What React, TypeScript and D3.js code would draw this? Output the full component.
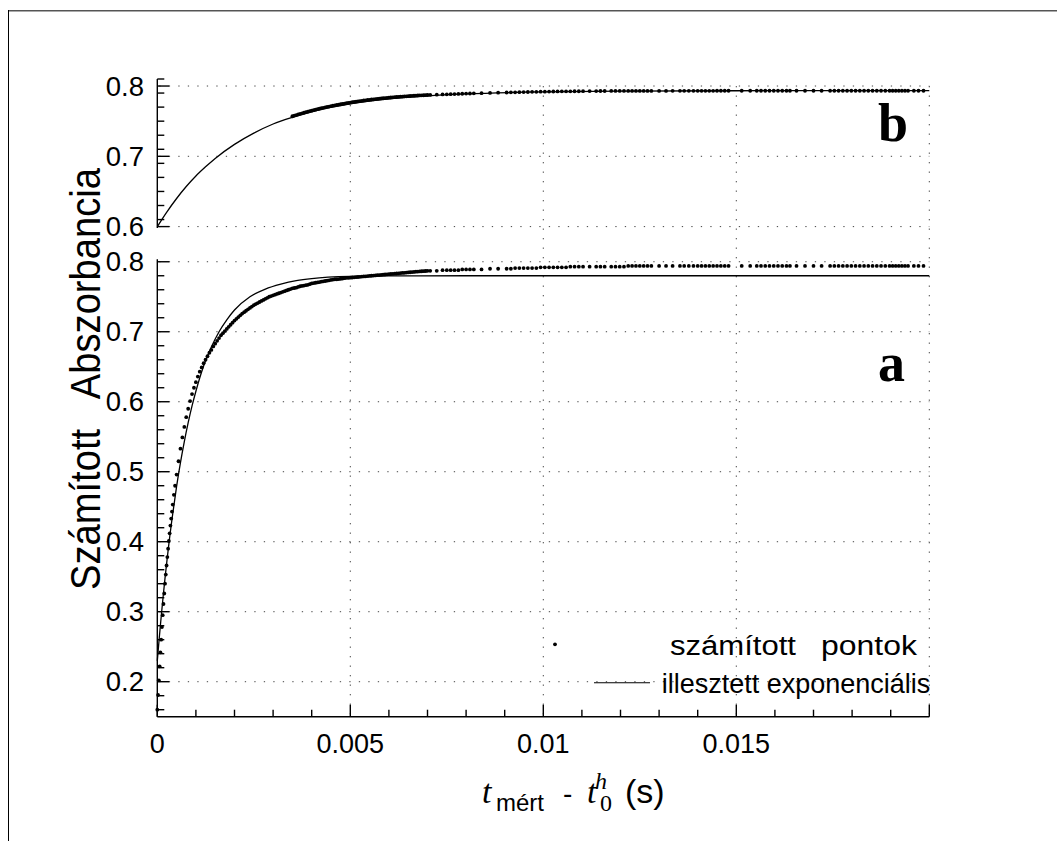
import React, { useEffect, useRef } from 'react';
import * as d3 from 'd3';

// time values are in ms, the axis shows seconds
const xTicks = [0, 5, 10, 15];
const xTickLabels = ['0', '0.005', '0.01', '0.015'];
const yTicksA = [0.2, 0.3, 0.4, 0.5, 0.6, 0.7, 0.8];
const yTicksB = [0.6, 0.7, 0.8];

// panel a: calculated points, rising part [t ms, absorbance]
const dotsA = [
  [0, 0.16], [0.02, 0.181], [0.04, 0.202], [0.06, 0.222], [0.08, 0.242], [0.1, 0.26], [0.12, 0.278], [0.14, 0.295], [0.16, 0.311], [0.18, 0.326],
  [0.2, 0.34], [0.22, 0.353], [0.24, 0.366], [0.26, 0.378], [0.28, 0.39], [0.3, 0.401], [0.32, 0.412], [0.34, 0.423], [0.36, 0.433], [0.38, 0.443],
  [0.4, 0.453], [0.43, 0.467], [0.46, 0.48], [0.5, 0.496], [0.55, 0.515], [0.6, 0.533], [0.65, 0.549], [0.7, 0.564], [0.75, 0.578], [0.8, 0.59],
  [0.85, 0.601], [0.9, 0.611], [0.95, 0.62], [1.0, 0.628], [1.05, 0.636], [1.1, 0.643], [1.15, 0.649], [1.2, 0.655], [1.25, 0.66], [1.3, 0.665],
  [1.35, 0.67], [1.4, 0.674], [1.45, 0.679], [1.5, 0.683], [1.55, 0.687], [1.6, 0.691], [1.65, 0.695], [1.7, 0.698], [1.75, 0.701], [1.8, 0.704],
  [1.85, 0.707], [1.9, 0.71], [1.95, 0.713], [2.0, 0.716], [2.05, 0.7185], [2.1, 0.721], [2.15, 0.7235], [2.2, 0.726], [2.25, 0.728], [2.3, 0.73],
  [2.35, 0.732], [2.4, 0.734], [2.45, 0.736], [2.5, 0.738], [2.55, 0.7395], [2.6, 0.741], [2.65, 0.7425], [2.7, 0.744], [2.75, 0.7455], [2.8, 0.747],
  [2.85, 0.7485], [2.9, 0.75], [2.95, 0.751], [3.0, 0.752], [3.05, 0.753], [3.1, 0.754], [3.15, 0.755], [3.2, 0.756], [3.25, 0.757], [3.3, 0.758],
  [3.35, 0.759], [3.4, 0.76], [3.45, 0.761], [3.5, 0.762], [3.55, 0.7625], [3.6, 0.763], [3.65, 0.764], [3.7, 0.765], [3.75, 0.7655], [3.8, 0.766],
  [3.85, 0.7665], [3.9, 0.767], [3.95, 0.768], [4.0, 0.769], [4.05, 0.7695], [4.1, 0.77], [4.15, 0.7705], [4.2, 0.771], [4.25, 0.7715], [4.3, 0.772],
  [4.35, 0.7725], [4.4, 0.773], [4.45, 0.7735], [4.5, 0.774], [4.55, 0.7745], [4.6, 0.775], [4.65, 0.775], [4.7, 0.7753], [4.75, 0.7757], [4.8, 0.776],
  [4.85, 0.7765], [4.9, 0.777], [4.95, 0.777], [5.0, 0.7772], [5.05, 0.7775], [5.1, 0.7778], [5.15, 0.778], [5.2, 0.7782], [5.25, 0.7785], [5.3, 0.7788],
  [5.35, 0.779], [5.4, 0.7792], [5.45, 0.7795], [5.5, 0.7798], [5.55, 0.78], [5.6, 0.7802], [5.65, 0.7805], [5.7, 0.7808], [5.75, 0.781], [5.8, 0.7812],
  [5.85, 0.7815], [5.9, 0.7818], [5.95, 0.782], [6.0, 0.7822], [6.05, 0.7825], [6.1, 0.7828], [6.15, 0.783], [6.2, 0.7832], [6.25, 0.7835], [6.3, 0.7838],
  [6.35, 0.784], [6.4, 0.7842], [6.45, 0.7845], [6.5, 0.7848], [6.55, 0.785], [6.6, 0.7852], [6.65, 0.7855], [6.7, 0.7858], [6.75, 0.786], [6.8, 0.7862],
  [6.85, 0.7864], [6.9, 0.7866], [6.95, 0.7868], [7.0, 0.787],
];

// panel b: calculated points, dense part
const dotsB = [
  [3.5, 0.757], [3.55, 0.7579], [3.6, 0.7587], [3.65, 0.7596], [3.7, 0.7604], [3.75, 0.7612], [3.8, 0.762], [3.85, 0.7628], [3.9, 0.7635], [3.95, 0.7643],
  [4.0, 0.765], [4.05, 0.7657], [4.1, 0.7664], [4.15, 0.7671], [4.2, 0.7677], [4.25, 0.7684], [4.3, 0.769], [4.35, 0.7696], [4.4, 0.7702], [4.45, 0.7708],
  [4.5, 0.7714], [4.55, 0.772], [4.6, 0.7725], [4.65, 0.7731], [4.7, 0.7736], [4.75, 0.7741], [4.8, 0.7746], [4.85, 0.7751], [4.9, 0.7756], [4.95, 0.776],
  [5.0, 0.7765], [5.05, 0.777], [5.1, 0.7774], [5.15, 0.7778], [5.2, 0.7782], [5.25, 0.7786], [5.3, 0.779], [5.35, 0.7794], [5.4, 0.7797], [5.45, 0.7801],
  [5.5, 0.7804], [5.55, 0.7808], [5.6, 0.7811], [5.65, 0.7814], [5.7, 0.7817], [5.75, 0.782], [5.8, 0.7823], [5.85, 0.7826], [5.9, 0.7829], [5.95, 0.7831],
  [6.0, 0.7834], [6.05, 0.7837], [6.1, 0.7839], [6.15, 0.7842], [6.2, 0.7844], [6.25, 0.7846], [6.3, 0.7848], [6.35, 0.785], [6.4, 0.7852], [6.45, 0.7854],
  [6.5, 0.7856], [6.55, 0.7858], [6.6, 0.786], [6.65, 0.7862], [6.7, 0.7863], [6.75, 0.7865], [6.8, 0.7866], [6.85, 0.7868], [6.9, 0.7869], [6.95, 0.7871],
  [7.0, 0.7872],
];

// later points share the same (uneven) time grid in both panels
const sparseTimes = [
  7.07, 7.24, 7.39, 7.5, 7.6, 7.7, 7.8, 7.9, 8.0, 8.1,
  8.2, 8.4, 8.62, 8.83, 9.05, 9.16, 9.27, 9.38, 9.49, 9.6,
  9.71, 9.82, 9.93, 10.04, 10.15, 10.26, 10.37, 10.48, 10.59, 10.7,
  10.81, 10.92, 11.03, 11.2, 11.37, 11.48, 11.59, 11.76, 11.87, 11.98,
  12.09, 12.2, 12.3, 12.4, 12.5, 12.6, 12.7, 12.8, 13.0, 13.18,
  13.35, 13.54, 13.65, 13.77, 13.89, 14.0, 14.1, 14.2, 14.3, 14.4,
  14.5, 14.6, 14.7, 14.8, 15.14, 15.36, 15.53, 15.64, 15.75, 15.86,
  15.97, 16.08, 16.19, 16.3, 16.39, 16.56, 16.78, 17.0, 17.21, 17.43,
  17.54, 17.65, 17.76, 17.87, 17.98, 18.09, 18.2, 18.31, 18.42, 18.53,
  18.64, 18.75, 18.86, 18.97, 19.05, 19.13, 19.21, 19.29, 19.37, 19.45,
  19.6, 19.72, 19.85,
];
const sparseAbsA = [
  0.787, 0.787, 0.788, 0.788, 0.788, 0.788, 0.788, 0.789, 0.789, 0.789,
  0.789, 0.789, 0.79, 0.79, 0.79, 0.79, 0.791, 0.791, 0.791, 0.791,
  0.791, 0.791, 0.792, 0.792, 0.792, 0.792, 0.792, 0.792, 0.792, 0.793,
  0.793, 0.793, 0.793, 0.793, 0.793, 0.793, 0.793, 0.793, 0.793, 0.793,
  0.793, 0.794, 0.794, 0.794, 0.794, 0.794, 0.794, 0.794, 0.794, 0.794,
  0.794, 0.794, 0.794, 0.794, 0.794, 0.794, 0.794, 0.794, 0.794, 0.794,
  0.794, 0.794, 0.794, 0.794, 0.794, 0.794, 0.794, 0.794, 0.794, 0.794,
  0.794, 0.794, 0.794, 0.794, 0.794, 0.794, 0.794, 0.794, 0.794, 0.794,
  0.794, 0.794, 0.794, 0.794, 0.794, 0.794, 0.794, 0.794, 0.794, 0.794,
  0.794, 0.794, 0.794, 0.794, 0.794, 0.794, 0.794, 0.794, 0.794, 0.794,
  0.794, 0.794, 0.794,
];
const sparseAbsB = [
  0.7874, 0.7877, 0.788, 0.7882, 0.7884, 0.7886, 0.7888, 0.789, 0.7892, 0.7894,
  0.7896, 0.7899, 0.7902, 0.7905, 0.7908, 0.791, 0.7911, 0.7913, 0.7914, 0.7915,
  0.7917, 0.7918, 0.7919, 0.792, 0.7921, 0.7922, 0.7923, 0.7924, 0.7924, 0.7925,
  0.7926, 0.7926, 0.7927, 0.7928, 0.7928, 0.7929, 0.7929, 0.793, 0.793, 0.793,
  0.7931, 0.7931, 0.7931, 0.7931, 0.7931, 0.7931, 0.7931, 0.7931, 0.7931, 0.7931,
  0.7932, 0.7932, 0.7932, 0.7932, 0.7932, 0.7932, 0.7932, 0.7932, 0.7932, 0.7932,
  0.7933, 0.7933, 0.7933, 0.7933, 0.7933, 0.7933, 0.7933, 0.7933, 0.7933, 0.7933,
  0.7933, 0.7933, 0.7933, 0.7933, 0.7933, 0.7933, 0.7933, 0.7933, 0.7933, 0.7933,
  0.7933, 0.7933, 0.7933, 0.7933, 0.7933, 0.7933, 0.7933, 0.7933, 0.7933, 0.7933,
  0.7933, 0.7933, 0.7933, 0.7933, 0.7933, 0.7933, 0.7933, 0.7933, 0.7933, 0.7933,
  0.7933, 0.7933, 0.7933,
];

// fitted exponentials
const fitA = [
  [0, 0.23], [0.05, 0.262], [0.1, 0.2925], [0.15, 0.321], [0.2, 0.348], [0.25, 0.373], [0.3, 0.397], [0.4, 0.44],
  [0.5, 0.479], [0.6, 0.513], [0.7, 0.543], [0.8, 0.57], [0.9, 0.594], [1.0, 0.615], [1.2, 0.651], [1.4, 0.678],
  [1.6, 0.7], [1.8, 0.717], [2.0, 0.731], [2.4, 0.75], [2.8, 0.761], [3.2, 0.768], [3.6, 0.773], [4.0, 0.776],
  [5.0, 0.779], [6.0, 0.7797], [8.0, 0.78], [20, 0.78],
];
const fitB = [
  [0, 0.6], [0.25, 0.621], [0.5, 0.64], [0.75, 0.657], [1.0, 0.672], [1.25, 0.685], [1.5, 0.697], [2.0, 0.717],
  [2.5, 0.733], [3.0, 0.746], [3.5, 0.7555], [4.0, 0.7634], [5.0, 0.7746], [6.0, 0.7816], [7.0, 0.786], [8.0, 0.7888],
  [10, 0.7917], [12, 0.7928], [15, 0.7933], [20, 0.7935],
];

const SANS = '"Liberation Sans", Arial, Helvetica, sans-serif';
const SERIF = '"Liberation Serif", "Times New Roman", serif';

const buildChart = svgEl => {
  const svg = d3.select(svgEl);
  svg.selectAll('*').remove();

  const x = d3.scaleLinear().domain([0, 20]).range([157.3, 929.3]);
  const yA = d3.scaleLinear().domain([0.15, 0.8035]).range([716.7, 259.3]);
  const yB = d3.scaleLinear().domain([0.598, 0.81]).range([228, 79]);
  const x0 = x(0);
  const axisY = yA(0.15);

  svg.append('rect').attr('width', 1057).attr('height', 841).attr('fill', '#fff');

  // outer frame (top + left only)
  svg.append('line').attr('x1', 8).attr('x2', 1057).attr('y1', 10.7).attr('y2', 10.7)
    .attr('stroke', '#555').attr('stroke-width', 1.4);
  svg.append('line').attr('x1', 8.5).attr('x2', 8.5).attr('y1', 10).attr('y2', 841)
    .attr('stroke', '#000').attr('stroke-width', 1);

  const grid = svg.append('g').attr('stroke', '#444').attr('stroke-width', 1)
    .attr('stroke-dasharray', '1.3 8.2').attr('fill', 'none');

  // vertical grid runs through both panels
  [5, 10, 15, 20].forEach(t => {
    grid.append('line').attr('x1', x(t)).attr('x2', x(t))
      .attr('y1', yB(0.8)).attr('y2', axisY);
  });

  const drawPanel = (y, majors, minors, dom) => {
    majors.forEach(v => {
      grid.append('line').attr('x1', x0 + 2).attr('x2', x(20))
        .attr('y1', y(v)).attr('y2', y(v));
    });
    const ax = svg.append('g').attr('stroke', '#000').attr('stroke-width', 1.4);
    ax.append('line').attr('x1', x0).attr('x2', x0).attr('y1', y(dom[1])).attr('y2', y(dom[0]));
    majors.forEach(v => {
      ax.append('line').attr('x1', x0).attr('x2', x0 + 12).attr('y1', y(v)).attr('y2', y(v));
    });
    minors.forEach(v => {
      ax.append('line').attr('x1', x0).attr('x2', x0 + 7).attr('y1', y(v)).attr('y2', y(v));
    });
    svg.append('g').selectAll('text').data(majors).enter().append('text')
      .attr('x', 144).attr('y', v => y(v) + 9.6)
      .attr('text-anchor', 'end').attr('font-family', SANS).attr('font-size', 27.5)
      .text(v => d3.format('.1f')(v));
  };

  drawPanel(yB, yTicksB, d3.range(61, 82, 2).map(v => v / 100), [0.598, 0.81]);
  drawPanel(yA, yTicksA, d3.range(16, 80, 2).filter(v => v % 10 !== 0).map(v => v / 100), [0.15, 0.8035]);

  // x axis
  const xa = svg.append('g').attr('stroke', '#000').attr('stroke-width', 1.4);
  xa.append('line').attr('x1', x0).attr('x2', x(20)).attr('y1', axisY).attr('y2', axisY);
  d3.range(0, 21, 1).forEach(t => {
    const len = t % 5 === 0 ? 12 : 7;
    xa.append('line').attr('x1', x(t)).attr('x2', x(t)).attr('y1', axisY).attr('y2', axisY - len);
  });
  xTicks.forEach((t, i) => {
    svg.append('text').attr('x', x(t)).attr('y', 753).attr('text-anchor', 'middle')
      .attr('font-family', SANS).attr('font-size', 27).text(xTickLabels[i]);
  });

  const lineA = d3.line().x(d => x(d[0])).y(d => yA(d[1])).curve(d3.curveMonotoneX);
  const lineB = d3.line().x(d => x(d[0])).y(d => yB(d[1])).curve(d3.curveMonotoneX);

  svg.append('path').attr('d', lineB(fitB)).attr('fill', 'none').attr('stroke', '#000').attr('stroke-width', 1.3);
  svg.append('path').attr('d', lineA(fitA)).attr('fill', 'none').attr('stroke', '#000').attr('stroke-width', 1.3);

  const pointsA = dotsA.concat(sparseTimes.map((t, i) => [t, sparseAbsA[i]]));
  const pointsB = dotsB.concat(sparseTimes.map((t, i) => [t, sparseAbsB[i]]));

  svg.append('g').selectAll('circle').data(pointsA).enter().append('circle')
    .attr('cx', d => x(d[0])).attr('cy', d => yA(d[1])).attr('r', 1.9).attr('fill', '#000');
  svg.append('g').selectAll('circle').data(pointsB).enter().append('circle')
    .attr('cx', d => x(d[0])).attr('cy', d => yB(d[1])).attr('r', 1.9).attr('fill', '#000');

  // panel letters
  svg.append('text').attr('x', 878).attr('y', 140.5).attr('font-family', SERIF)
    .attr('font-weight', 'bold').attr('font-size', 54).text('b');
  svg.append('text').attr('x', 878).attr('y', 381).attr('font-family', SERIF)
    .attr('font-weight', 'bold').attr('font-size', 54).text('a');

  // y title
  svg.append('text').attr('transform', 'translate(100,379) rotate(-90)')
    .attr('text-anchor', 'middle').attr('font-family', SANS).attr('font-size', 42)
    .attr('textLength', 422).attr('lengthAdjust', 'spacingAndGlyphs')
    .style('white-space', 'pre').text('Számított   Abszorbancia');

  // legend
  svg.append('circle').attr('cx', 555).attr('cy', 644.3).attr('r', 1.9).attr('fill', '#000');
  const leg = svg.append('text').attr('font-family', SANS).attr('font-size', 27);
  leg.append('tspan').attr('x', 670).attr('y', 655).attr('textLength', 126)
    .attr('lengthAdjust', 'spacingAndGlyphs').text('számított');
  leg.append('tspan').attr('x', 821).attr('y', 655).attr('textLength', 96)
    .attr('lengthAdjust', 'spacingAndGlyphs').text('pontok');
  svg.append('line').attr('x1', 594).attr('x2', 650).attr('y1', 682.7).attr('y2', 682.7)
    .attr('stroke', '#000').attr('stroke-width', 1.1);
  svg.append('text').attr('x', 661.7).attr('y', 692.5).attr('font-family', SANS).attr('font-size', 27)
    .text('illesztett exponenciális');

  // x title: t_mért - t_0^h (s), one text element with placed pieces
  const xt = svg.append('text').attr('font-family', SANS);
  xt.append('tspan').attr('x', 482).attr('y', 803).attr('font-family', SERIF).attr('font-style', 'italic')
    .attr('font-size', 34).text('t');
  xt.append('tspan').attr('x', 496).attr('y', 811).attr('font-size', 24).text('mért');
  xt.append('tspan').attr('x', 563).attr('y', 803).attr('font-size', 28).text('-');
  xt.append('tspan').attr('x', 587).attr('y', 803).attr('font-family', SERIF).attr('font-style', 'italic')
    .attr('font-size', 34).text('t');
  xt.append('tspan').attr('x', 595).attr('y', 789).attr('font-family', SERIF).attr('font-style', 'italic')
    .attr('font-size', 24).text('h');
  xt.append('tspan').attr('x', 600).attr('y', 811).attr('font-family', SERIF).attr('font-size', 24).text('0');
  xt.append('tspan').attr('x', 625).attr('y', 803).attr('font-size', 34).text('(s)');
};

const App = () => {
  const ref = useRef(null);
  useEffect(() => {
    buildChart(ref.current);
  });

  return (
    <svg
      ref={ref}
      width={1057}
      height={841}
      style={{ position: 'absolute', left: 0, top: 0, display: 'block' }}
    />
  );
};

export default App;
